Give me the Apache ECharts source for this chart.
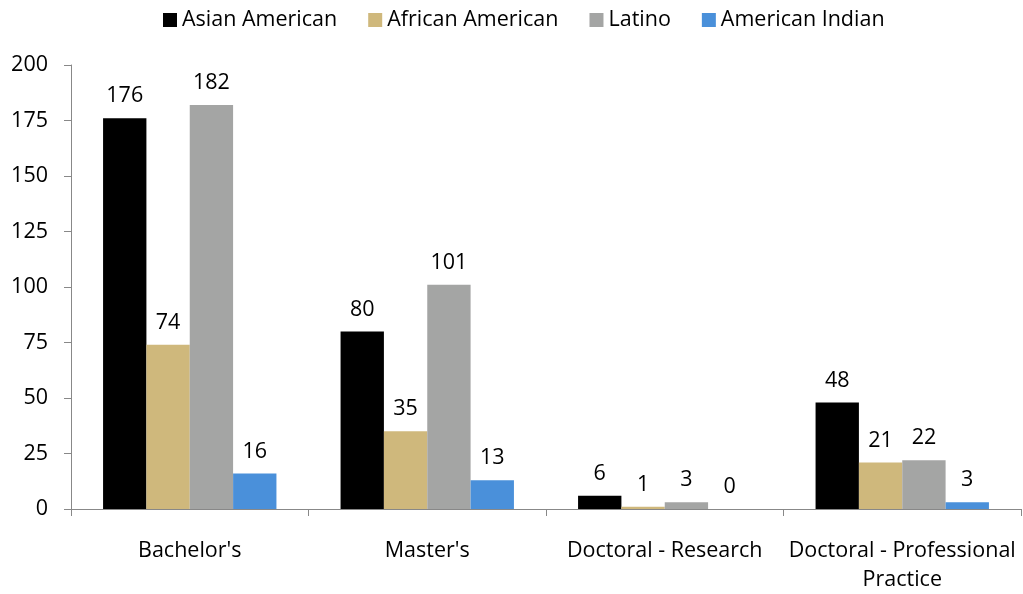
<!DOCTYPE html>
<html><head><meta charset="utf-8">
<script src="https://cdn.jsdelivr.net/npm/echarts@6/dist/echarts.min.js"></script>
<style>html,body{margin:0;padding:0;background:#fff}#c{width:1023px;height:594px}</style>
</head><body><div id="c"></div>
<script>
const categories = ["Bachelor's", "Master's", "Doctoral - Research", "Doctoral - Professional\nPractice"];
const asianAmerican = [176, 80, 6, 48];
const africanAmerican = [74, 35, 1, 21];
const latino = [182, 101, 3, 22];
const americanIndian = [16, 13, 0, 3];
const yTicks = [0, 25, 50, 75, 100, 125, 150, 175, 200];

const FONT = '"Open Sans", sans-serif';
const FS = 21.5;
const chart = echarts.init(document.getElementById('c'));
function s(name, data, color) {
  return {
    name, type: 'bar', data, barGap: '0%', barCategoryGap: '27%',
    itemStyle: { color },
    label: { show: true, position: 'top', distance: 11, color: '#000', fontSize: FS, fontFamily: FONT },
    emphasis: { disabled: true }
  };
}
chart.setOption({
  animation: false,
  legend: {
    top: 4, left: 158, itemWidth: 14, itemHeight: 14, itemGap: 31,
    icon: 'rect',
    textStyle: { fontSize: FS, fontFamily: FONT, color: '#000' }
  },
  grid: { left: 71, right: 2, top: 65, bottom: 83, containLabel: false },
  xAxis: {
    type: 'category', data: categories,
    axisLine: { lineStyle: { color: '#888', width: 1 } },
    axisTick: { show: true, length: 7, lineStyle: { color: '#888' } },
    axisLabel: { fontSize: FS, fontFamily: FONT, color: '#000', margin: 27, lineHeight: 29, interval: 0 }
  },
  yAxis: {
    type: 'value', min: yTicks[0], max: yTicks[yTicks.length-1], interval: 25,
    splitLine: { show: false },
    axisLine: { show: true, lineStyle: { color: '#888' } },
    axisTick: { show: true, length: 7, lineStyle: { color: '#888' } },
    axisLabel: { fontSize: FS, fontFamily: FONT, color: '#000', margin: 23 }
  },
  series: [
    s('Asian American', asianAmerican, '#000000'),
    s('African American', africanAmerican, '#CFB87C'),
    s('Latino', latino, '#A4A5A4'),
    s('American Indian', americanIndian, '#4A90DA')
  ]
});
</script></body></html>
